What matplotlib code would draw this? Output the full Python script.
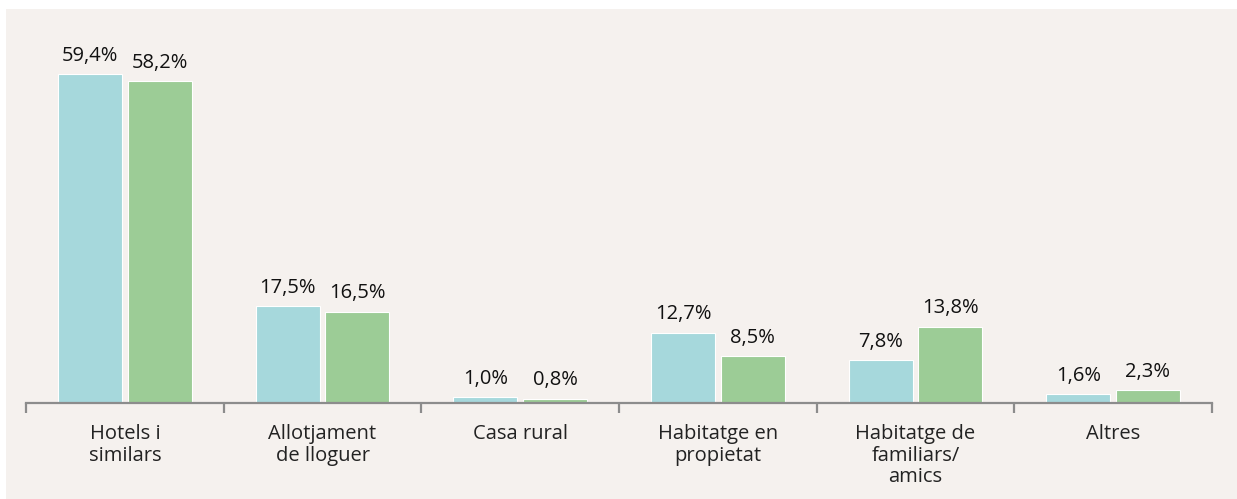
import numpy as np
import matplotlib.pyplot as plt
from matplotlib.patches import Rectangle

categories = ['Hotels i\nsimilars', 'Allotjament\nde lloguer', 'Casa rural',
              'Habitatge en\npropietat', 'Habitatge de\nfamiliars/\namics', 'Altres']
serie_a = [59.4, 17.5, 1.0, 12.7, 7.8, 1.6]
serie_b = [58.2, 16.5, 0.8, 8.5, 13.8, 2.3]

plt.rcParams['font.family'] = ['Open Sans', 'DejaVu Sans']

W, H = 1237, 499
fig = plt.figure(figsize=(W / 100, H / 100), dpi=100, facecolor='white')
# light panel behind the chart
fig.patches.append(Rectangle((6 / W, -0.01), 1.02, 1.01 - 9 / H, transform=fig.transFigure,
                             facecolor='#F5F1EE', edgecolor='none', zorder=-1))

ax = fig.add_axes([26 / W, 96 / H, (1212 - 26) / W, (403 - 9) / H])
ax.set_facecolor('none')

x = np.arange(len(categories))
w = 0.325
off = 0.176
bars_a = ax.bar(x - off, serie_a, width=w, color='#A6D8DC', edgecolor='white', linewidth=0.8)
bars_b = ax.bar(x + off, serie_b, width=w, color='#9CCC96', edgecolor='white', linewidth=0.8)

for bars, vals in ((bars_a, serie_a), (bars_b, serie_b)):
    for b, v in zip(bars, vals):
        ax.annotate(f'{v:.1f}%'.replace('.', ','), (b.get_x() + b.get_width() / 2, v),
                    xytext=(0, 6), textcoords='offset points', ha='center', va='bottom',
                    fontsize=14.5, color='#111111')

ax.set_xlim(-0.5, len(categories) - 0.5)
ax.set_ylim(0, 71.2)
ax.set_yticks([])
for s in ('top', 'right', 'left'):
    ax.spines[s].set_visible(False)
ax.spines['bottom'].set_color('#8C8C8C')
ax.spines['bottom'].set_linewidth(1.6)

ax.set_xticks(np.arange(len(categories) + 1) - 0.5)
ax.set_xticklabels([])
ax.tick_params(axis='x', which='major', length=7, width=1.6, color='#8C8C8C')
ax.set_xticks(x, minor=True)
ax.set_xticklabels(categories, minor=True, fontsize=14.5, color='#222222', linespacing=1.12)
ax.tick_params(axis='x', which='minor', length=0, pad=15)

fig.savefig('out.png', dpi=100, facecolor='white')
